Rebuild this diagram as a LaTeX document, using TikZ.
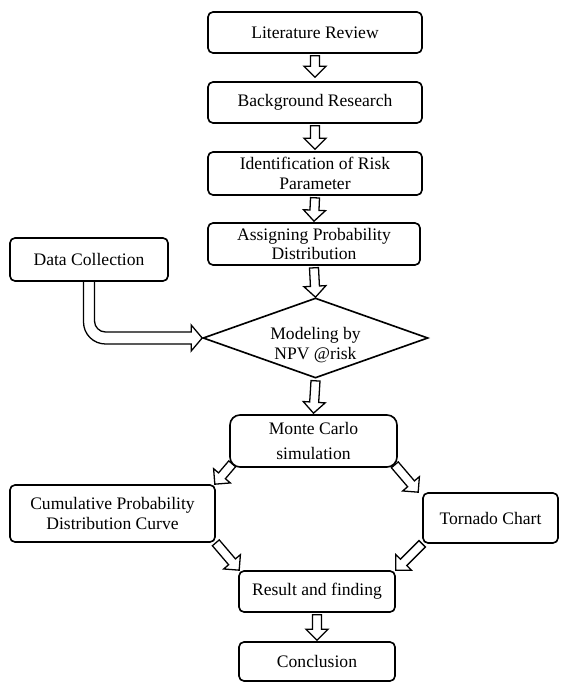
\documentclass[tikz,border=0pt]{standalone}
\usepackage{fontspec}
\setmainfont{Liberation Serif}
\usetikzlibrary{shapes.geometric,calc,positioning}

\begin{document}
\begin{tikzpicture}[x=0.03cm, y=0.03cm,
      box/.style={rectangle, rounded corners=0.15cm, draw=black, line width=1.4pt, inner sep=0pt, align=center, font=\fontsize{15}{17}\selectfont},
      decision/.style={diamond, aspect=2.8, draw=black, line width=1.4pt, inner sep=0pt, minimum width=6.75cm, minimum height=2.4cm},
      blockarrow/.style={draw=black, line width=1.1pt, to path={let \p1=(\tikztostart), \p2=(\tikztotarget), \p3=($(\p2)!0.33cm!(\p1)$) in
        ($(\p1)!0.135cm!90:(\p2)$) -- ($(\p3)!0.135cm!90:(\p2)$) -- ($(\p3)!0.33cm!90:(\p2)$) -- (\p2)
        -- ($(\p3)!0.33cm!-90:(\p2)$) -- ($(\p3)!0.135cm!-90:(\p2)$) -- ($(\p1)!0.135cm!-90:(\p2)$) -- cycle}},
      bentarrow/.style={draw=black, line width=1.1pt}]

\useasboundingbox (0,0) rectangle (561,-682);

\node[box, minimum width=6.42cm, minimum height=1.23cm] (lit) at (315,-32.5) {Literature Review};
\node[box, minimum width=6.42cm, minimum height=1.23cm] (back) at (315,-102.5) {Background Research};
\node[box, minimum width=6.42cm, minimum height=1.29cm] (ident) at (315,-173.5) {Identification of Risk\\Parameter};
\node[box, minimum width=6.36cm, minimum height=1.26cm] (assign) at (314,-244) {Assigning Probability\\Distribution};
\node[box, minimum width=4.74cm, minimum height=1.29cm] (data) at (89,-259.5) {Data Collection};
\node[decision, label={[yshift=-0.2cm, align=center, font=\fontsize{15}{17}\selectfont]center:Modeling by\\NPV @risk}] (model) at (315.5,-338) {};
\node[box, rounded corners=0.3cm, minimum width=5.01cm, minimum height=1.56cm] (monte) at (313.5,-441) {Monte Carlo\\[0.15cm]simulation};
\node[box, minimum width=6.15cm, minimum height=1.71cm] (cum) at (112.5,-513.5) {Cumulative Probability\\Distribution Curve};
\node[box, minimum width=4.05cm, minimum height=1.5cm] (torn) at (490.5,-518) {Tornado Chart};
\node[box, minimum width=4.68cm, minimum height=1.23cm] (result) at (317,-591.5) {Result and finding};
\node[box, minimum width=4.68cm, minimum height=1.17cm] (concl) at (317,-661.5) {Conclusion};

% main line
\draw[blockarrow] ([shift={(0,-2)}]lit.south) to ([shift={(0,4)}]back.north);
\draw[blockarrow] ([shift={(0,-2)}]back.south) to ([shift={(0,2)}]ident.north);
\draw[blockarrow] ([shift={(0,-2)}]ident.south) to ([shift={(0,1)}]assign.north);
\draw[blockarrow] ([shift={(0,-2)}]assign.south) to (model.north);
\draw[blockarrow] ([shift={(0,-2)}]model.south) to ([shift={(0,1)}]monte.north);
\draw[blockarrow] ([shift={(3,4)}]monte.south west) to ([shift={(-1,0)}]cum.north east);
\draw[blockarrow] ([shift={(-3,3)}]monte.south east) to ([shift={(-4,0)}]torn.north west);
\draw[blockarrow] (cum.south east) to ([shift={(1,0)}]result.north west);
\draw[blockarrow] (torn.south west) to (result.north east);
\draw[blockarrow] ([shift={(0,-2)}]result.south) to ([shift={(0,1)}]concl.north);

% data collection into the model
\draw[bentarrow] ($(data.south)+(-5.5,0)$)
  -- ($(data.south |- model.west)+(-5.5,16)$)
  arc[start angle=180, end angle=270, radius=22]
  -- ($(model.west)+(-11,-6)$) -- ($(model.west)+(-11,-13)$) -- (model.west)
  -- ($(model.west)+(-11,13)$) -- ($(model.west)+(-11,6)$)
  -- ($(data.south |- model.west)+(16.5,6)$)
  arc[start angle=270, end angle=180, radius=11]
  -- ($(data.south)+(5.5,0)$);

\end{tikzpicture}
\end{document}
